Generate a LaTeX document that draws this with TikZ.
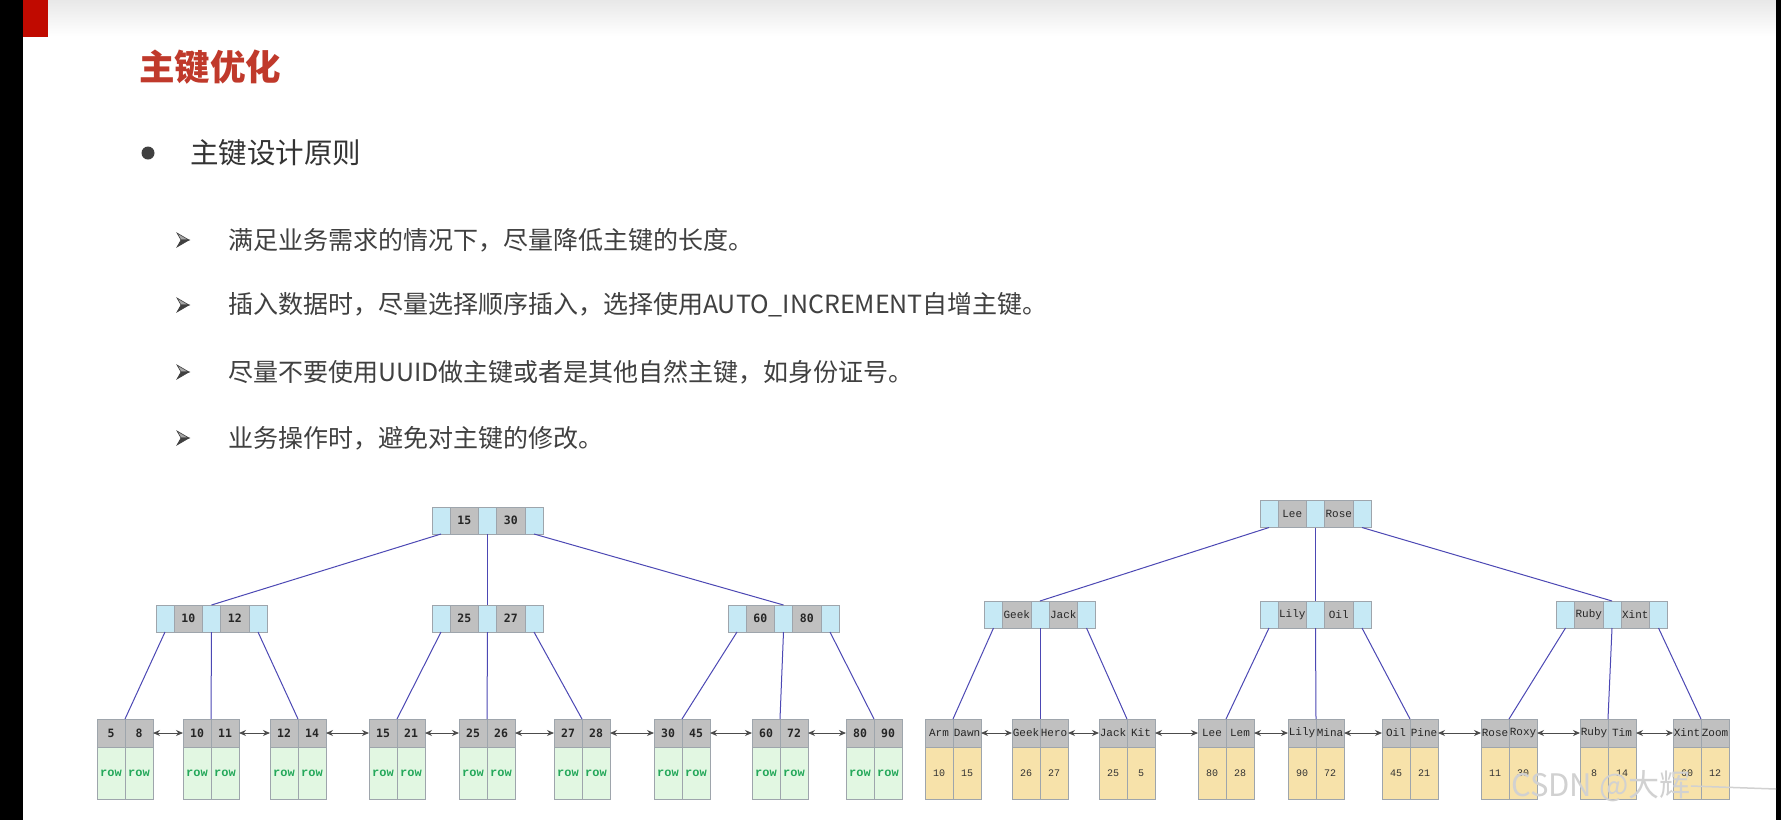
\documentclass[tikz,border=0pt]{standalone}
\usepackage{fontspec}
\setmainfont{Noto Sans CJK SC}
\newfontfamily\treemono{DejaVu Sans Mono}
\newfontfamily\leafmono{Liberation Mono}
\usepackage{tikz}
\usetikzlibrary{positioning, arrows.meta}

\definecolor{ptrblue}{RGB}{198,233,245}
\definecolor{keygray}{RGB}{192,192,192}
\definecolor{cellline}{RGB}{158,165,172}
\definecolor{rowgreen}{RGB}{226,247,226}
\definecolor{rowtext}{RGB}{36,168,90}
\definecolor{valwheat}{RGB}{247,226,170}
\definecolor{linkblue}{RGB}{76,72,180}
\definecolor{titlered}{RGB}{192,57,43}
\definecolor{textdark}{RGB}{64,64,64}
\definecolor{barred}{RGB}{192,10,0}

% inner node: pointer | key | pointer | key | pointer
\newcommand{\treenode}[5]{%
    \node[ptrcell] (#1-p1) at (#2-46.5,#3) {};
    \node[keycell, right=0pt of #1-p1] (#1-k1) {#4};
    \node[ptrcell, right=0pt of #1-k1] (#1-p2) {};
    \node[keycell, right=0pt of #1-p2] (#1-k2) {#5};
    \node[ptrcell, right=0pt of #1-k2] (#1-p3) {};
}
% leaf page: two keys over two data cells
\newcommand{\leafnode}[6]{%
    \node[headcell] (#1-k1) at (#2-14,733) {#3};
    \node[headcell, right=0pt of #1-k1] (#1-k2) {#4};
    \node[datacell, below=0pt of #1-k1] (#1-v1) {#5};
    \node[datacell, below=0pt of #1-k2] (#1-v2) {#6};
}

\begin{document}
\begin{tikzpicture}[
        x=1pt, y=-1pt,
        >={Stealth[length=7pt, width=6pt]},
        cell/.style={rectangle, draw=cellline, line width=0.8pt, inner sep=0pt, outer sep=0pt},
        keyfont/.style={font=\fontsize{11.5}{13}\treemono\bfseries, text=black!85},
        ptrcell/.style={cell, fill=ptrblue, minimum width=18pt, minimum height=27pt},
        keycell/.style={cell, fill=keygray, minimum width=28.5pt, minimum height=27pt, keyfont},
        headcell/.style={cell, fill=keygray, minimum width=28pt, minimum height=28pt, keyfont},
        datacell/.style={cell, fill=rowgreen, minimum width=28pt, minimum height=52pt,
                font=\fontsize{12}{14}\leafmono\bfseries, text=rowtext},
        treelink/.style={draw=linkblue, line width=1pt},
        leaflink/.style={<->, draw=black!70, line width=0.9pt},
        titletext/.style={anchor=west, inner sep=0pt, text=titlered,
                font=\fontsize{35.5}{40}\selectfont\bfseries},
        headingtext/.style={anchor=west, inner sep=0pt, text=black!80,
                font=\fontsize{28.5}{32}\selectfont},
        itemtext/.style={anchor=west, inner sep=0pt, text=textdark,
                font=\fontsize{25}{30}\selectfont},
        dot/.style={circle, fill=textdark, minimum size=13pt, inner sep=0pt},
        watermark/.style={anchor=west, inner sep=0pt, text=black!18,
                font=\fontsize{31}{34}\selectfont},
    ]
    \useasboundingbox (0,0) rectangle (1781,820);

    % --- slide frame ------------------------------------------------
    \fill[white] (0,0) rectangle (1781,820);
    \shade[top color=black!9, bottom color=white] (23,0) rectangle (1776,36);
    \fill[black] (0,0) rectangle (23,820);
    \fill[black] (1776,0) rectangle (1781,820);
    \fill[barred] (23,0) rectangle (48,37);

    % --- text -------------------------------------------------------
    \node[titletext] (title) at (139,67) {主键优化};
    \node[dot] (bullet) at (148,153) {};
    \node[headingtext] (heading) at (190,153) {主键设计原则};

    \foreach \y in {240,305,372,438} {
        \filldraw[fill=black!35, draw=textdark, line width=0.6pt]
            (177,\y-7) -- (189,\y) -- (181,\y) -- cycle;
        \filldraw[fill=textdark, draw=textdark, line width=0.6pt]
            (177,\y+7) -- (189,\y) -- (181,\y) -- cycle;
    }
    \node[itemtext] (rule1) at (228,240) {满足业务需求的情况下，尽量降低主键的长度。};
    \node[itemtext] (rule2) at (228,305) {插入数据时，尽量选择顺序插入，选择使用AUTO\_INCREMENT自增主键。};
    \node[itemtext] (rule3) at (228,372) {尽量不要使用UUID做主键或者是其他自然主键，如身份证号。};
    \node[itemtext] (rule4) at (228,438) {业务操作时，避免对主键的修改。};

    % --- clustered index (numeric keys) -----------------------------
    \treenode{lroot}{487.5}{520.5}{15}{30}
    \treenode{la}{211.5}{618.5}{10}{12}
    \treenode{lb}{487.5}{618.5}{25}{27}
    \treenode{lc}{783.5}{618.5}{60}{80}

    \foreach \n/\x/\a/\b in {l1/125/5/8, l2/211/10/11, l3/298/12/14, l4/397/15/21,
            l5/487/25/26, l6/582/27/28, l7/682/30/45, l8/780/60/72, l9/874/80/90}
        {\leafnode{\n}{\x}{\a}{\b}{row}{row}}

    \draw[treelink] (lroot-p1.south) -- (la-p2.north);
    \draw[treelink] (lroot-p2.south) -- (lb-p2.north);
    \draw[treelink] (lroot-p3.south) -- (lc-p2.north);
    \foreach \p/\i/\j/\k in {la/l1/l2/l3, lb/l4/l5/l6, lc/l7/l8/l9} {
        \draw[treelink] (\p-p1.south) -- (\i-k1.north east);
        \draw[treelink] (\p-p2.south) -- (\j-k1.north east);
        \draw[treelink] (\p-p3.south) -- (\k-k1.north east);
    }
    \foreach \a/\b in {l1/l2, l2/l3, l3/l4, l4/l5, l5/l6, l6/l7, l7/l8, l8/l9}
        \draw[leaflink] (\a-k2.east) -- (\b-k1.west);

    % --- secondary index (name keys) --------------------------------
    \begin{scope}[keyfont/.style={font=\fontsize{11}{13}\leafmono, text=black!85},
            datacell/.append style={fill=valwheat, font=\fontsize{10}{12}\leafmono, text=black!80}]
        \treenode{rroot}{1315.5}{514}{Lee}{Rose}
        \treenode{ra}{1040}{614.5}{Geek}{Jack}
        \treenode{rb}{1315.5}{614.5}{Lily}{Oil}
        \treenode{rc}{1612}{614.5}{Ruby}{Xint}

        \foreach \n/\x/\a/\b/\u/\v in {r1/953/Arm/Dawn/10/15, r2/1040/Geek/Hero/26/27,
                r3/1127/Jack/Kit/25/5, r4/1226/Lee/Lem/80/28, r5/1316/Lily/Mina/90/72,
                r6/1410/Oil/Pine/45/21, r7/1509/Rose/Roxy/11/30, r8/1608/Ruby/Tim/8/14,
                r9/1701/Xint/Zoom/60/12}
            {\leafnode{\n}{\x}{\a}{\b}{\u}{\v}}
    \end{scope}

    \draw[treelink] (rroot-p1.south) -- (ra-p2.north);
    \draw[treelink] (rroot-p2.south) -- (rb-p2.north);
    \draw[treelink] (rroot-p3.south) -- (rc-p2.north);
    \foreach \p/\i/\j/\k in {ra/r1/r2/r3, rb/r4/r5/r6, rc/r7/r8/r9} {
        \draw[treelink] (\p-p1.south) -- (\i-k1.north east);
        \draw[treelink] (\p-p2.south) -- (\j-k1.north east);
        \draw[treelink] (\p-p3.south) -- (\k-k1.north east);
    }
    \foreach \a/\b in {r1/r2, r2/r3, r3/r4, r4/r5, r5/r6, r6/r7, r7/r8, r8/r9}
        \draw[leaflink] (\a-k2.east) -- (\b-k1.west);

    % --- watermark --------------------------------------------------
    \node[watermark] (wm) at (1511,786) {CSDN @大辉};
    \coordinate (wmend) at (1776,789);
    \draw[black!18, line width=1.5pt] (wm.east) -- (wmend);
\end{tikzpicture}
\end{document}
